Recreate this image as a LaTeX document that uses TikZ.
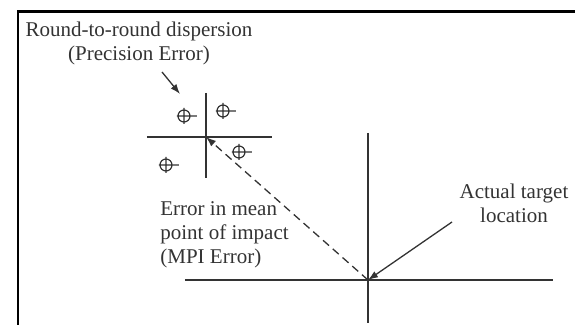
\documentclass[tikz,border=0pt]{standalone}
\usepackage{fontspec}
\setmainfont{Liberation Serif}
\definecolor{inkgray}{RGB}{51,51,51}
\usetikzlibrary{arrows.meta}

\begin{document}
\begin{tikzpicture}[
  x=0.5pt,y=-0.5pt,
  every node/.style={font=\fontsize{10.5}{12}\selectfont,text=inkgray,inner sep=0pt},
  framerule/.style={draw=black,line width=1.2pt},
  axisline/.style={draw=inkgray,line width=0.8pt},
  pointer/.style={draw=inkgray,line width=0.65pt,-{Latex[length=5pt,width=3.6pt]}},
  dashpointer/.style={pointer,dash pattern=on 4pt off 2.5pt},
  reticle/.pic={
    \draw[inkgray,line width=0.6pt] (0,0) circle (6)
      (-7,0) -- (13,0) (0,-8) -- (0,8);
  },
]
  \useasboundingbox (0,0) rectangle (575,325);

  % frame
  \draw[framerule] (18,326) -- (18,11.5) -- (576,11.5);

  % actual target cross
  \coordinate (target) at (368,280);
  \draw[axisline] (368,133) -- (368,323);
  \draw[axisline] (185,280) -- (553,280);

  % mean point of impact cross
  \coordinate (mpi) at (206,137);
  \draw[axisline] (206,93) -- (206,178);
  \draw[axisline] (147,137) -- (272,137);

  % impacts
  \pic at (184,116) {reticle};
  \pic at (223,111) {reticle};
  \pic at (239,152) {reticle};
  \pic at (166,165) {reticle};

  % labels
  \node[align=center,anchor=north] (disp) at (139,22)
    {Round-to-round dispersion\\(Precision Error)};
  \node[align=left,anchor=north west] (mpilabel) at (160,201)
    {Error in mean\\point of impact\\(MPI Error)};
  \node[align=center,anchor=north] (actual) at (514,184)
    {Actual target\\location};

  % pointers
  \coordinate (disptail) at (162,72);
  \coordinate (disphead) at (180,94);
  \coordinate (actualtail) at (452,222);
  \draw[pointer] (disptail) -- (disphead);
  \draw[pointer] (actualtail) -- (target);
  \draw[dashpointer] (target) -- (mpi);
\end{tikzpicture}
\end{document}
